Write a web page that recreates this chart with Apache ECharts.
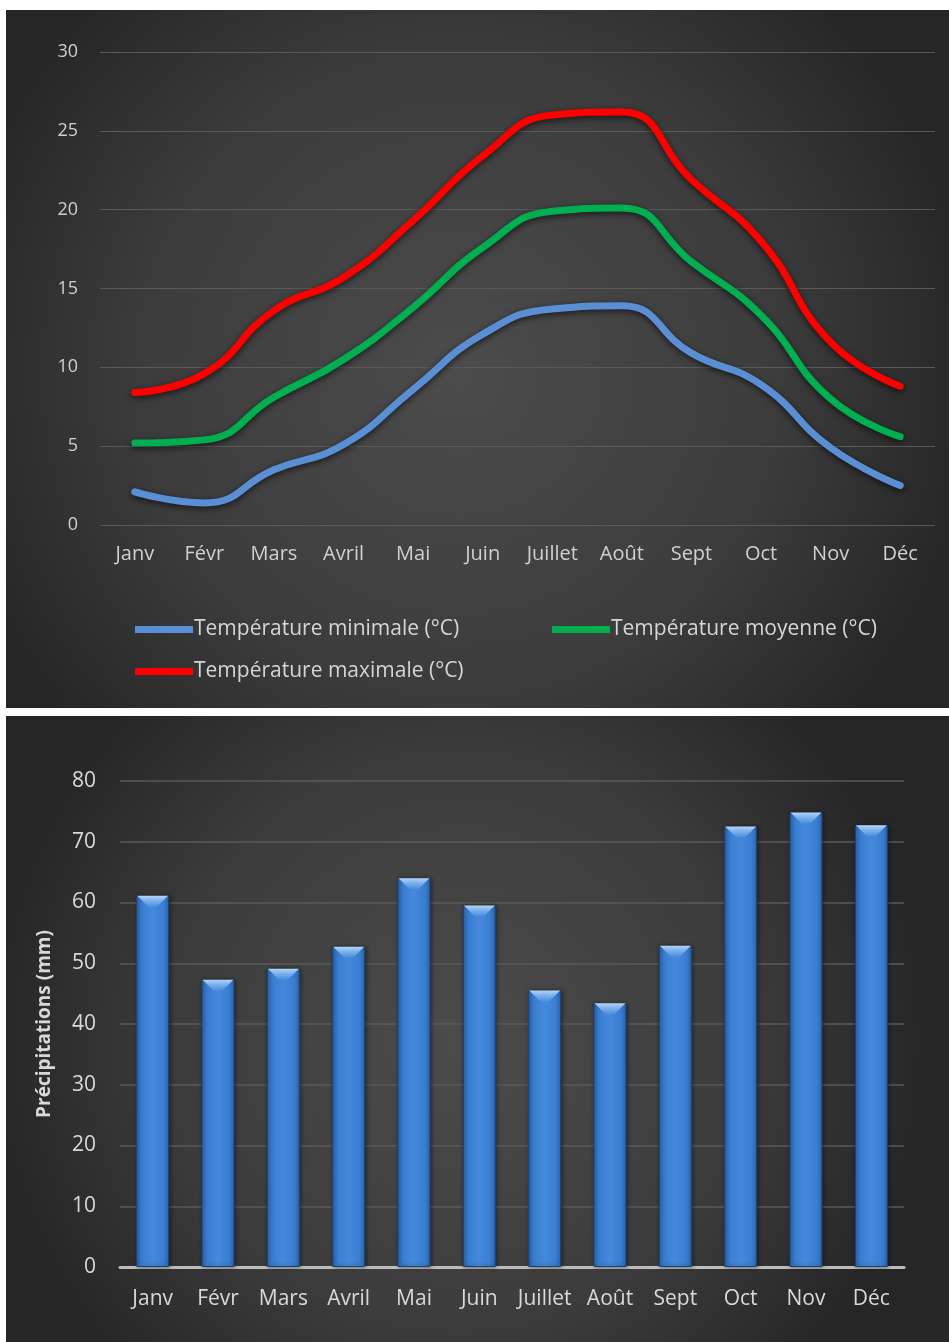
<!DOCTYPE html>
<html lang="fr">
<head>
<meta charset="utf-8">
<title>Climat mensuel</title>
<script src="https://cdn.jsdelivr.net/npm/echarts@6/dist/echarts.min.js"></script>
<style>
  html, body { margin: 0; padding: 0; background: #ffffff; }
  body { width: 949px; height: 1342px; position: relative; overflow: hidden; }
  #temp { position: absolute; left: 6px; top: 10px; width: 943px; height: 698px; }
  #rain { position: absolute; left: 6px; top: 716px; width: 943px; height: 626px; }
</style>
</head>
<body>
<div id="temp"></div>
<div id="rain"></div>
<script>
// Months shared by both charts
const months = ['Janv', 'Févr', 'Mars', 'Avril', 'Mai', 'Juin', 'Juillet', 'Août', 'Sept', 'Oct', 'Nov', 'Déc'];

// Temperatures (°C)
const tempMin = [2.1, 1.4, 3.5, 5.1, 8.6, 12.1, 13.7, 13.9, 10.9, 8.9, 4.9, 2.5];
const tempMoy = [5.2, 5.4, 8.1, 10.5, 13.8, 17.6, 19.9, 20.1, 16.7, 13.3, 8.0, 5.6];
const tempMax = [8.4, 9.6, 13.6, 15.7, 19.3, 23.4, 26.0, 26.2, 21.9, 18.0, 11.6, 8.8];

// Precipitation (mm)
const precip = [61.1, 47.3, 49.1, 52.7, 64.0, 59.5, 45.5, 43.4, 52.9, 72.5, 74.8, 72.7];

// Axis ticks
const tempTicks = { min: 0, max: 30, interval: 5 };
const rainTicks = { min: 0, max: 80, interval: 10 };

const seriesNames = ['Température minimale (°C)', 'Température moyenne (°C)', 'Température maximale (°C)'];
const seriesColors = ['#5b8fd5', '#00b050', '#ff0000'];

const axisFont = "'Open Sans', 'Noto Sans', sans-serif";
const gridColor = '#5a5a5a';

function panelBackground() {
  return {
    type: 'radial', x: 0.48, y: 0.52, r: 0.75,
    colorStops: [
      { offset: 0, color: '#4c4c4c' },
      { offset: 0.6, color: '#3c3c3c' },
      { offset: 1, color: '#262626' }
    ]
  };
}

// ---- Temperature lines ----
const tempChart = echarts.init(document.getElementById('temp'), null, { renderer: 'canvas' });

function lineSeries(i, data) {
  return {
    name: seriesNames[i],
    type: 'line',
    data: data,
    smooth: 0.5,
    showSymbol: false,
    symbol: 'none',
    lineStyle: {
      width: 7,
      color: seriesColors[i],
      cap: 'round',
      join: 'round',
      shadowColor: 'rgba(0,0,0,0.65)',
      shadowBlur: 6,
      shadowOffsetY: 2
    },
    itemStyle: { color: seriesColors[i] },
    z: 3 + i
  };
}

function legendItem(i, left, top) {
  return {
    data: [{ name: seriesNames[i], icon: 'rect' }],
    left: left, top: top,
    itemWidth: 58, itemHeight: 7, itemGap: 0,
    padding: 0,
    selectedMode: false,
    textStyle: { color: '#d6d6d6', fontSize: 21, fontFamily: axisFont, padding: [0, 0, 0, -4] }
  };
}

tempChart.setOption({
  backgroundColor: panelBackground(),
  animation: false,
  grid: { left: 94, top: 42, width: 835, height: 473 },
  legend: [
    legendItem(0, 129, 609),
    legendItem(1, 546, 609),
    legendItem(2, 129, 651)
  ],
  xAxis: {
    type: 'category',
    data: months,
    boundaryGap: true,
    axisLine: { show: false },
    axisTick: { show: false },
    axisLabel: { color: '#d0d0d0', fontSize: 20, fontFamily: axisFont, margin: 19, interval: 0 }
  },
  yAxis: {
    type: 'value',
    min: tempTicks.min, max: tempTicks.max, interval: tempTicks.interval,
    axisLine: { show: false },
    axisTick: { show: false },
    axisLabel: { color: '#d0d0d0', fontSize: 18, fontFamily: axisFont, margin: 22 },
    splitLine: { lineStyle: { color: gridColor, width: 1 } }
  },
  series: [
    lineSeries(0, tempMin),
    lineSeries(1, tempMoy),
    lineSeries(2, tempMax)
  ]
});

// ---- Precipitation bars ----
const rainChart = echarts.init(document.getElementById('rain'), null, { renderer: 'canvas' });

const barFill = {
  type: 'linear', x: 0, y: 0, x2: 1, y2: 0,
  colorStops: [
    { offset: 0, color: '#2d67b5' },
    { offset: 0.18, color: '#3a7ed2' },
    { offset: 0.5, color: '#4689db' },
    { offset: 0.82, color: '#3a7ed2' },
    { offset: 1, color: '#2d67b5' }
  ]
};

const bevelFill = {
  type: 'linear', x: 0, y: 0, x2: 0, y2: 1,
  colorStops: [
    { offset: 0, color: '#b5d6f8' },
    { offset: 0.35, color: '#86b7ee' },
    { offset: 1, color: '#4a8cdc' }
  ]
};

rainChart.setOption({
  backgroundColor: panelBackground(),
  animation: false,
  grid: { left: 114, top: 65, width: 784, height: 486 },
  xAxis: {
    type: 'category',
    data: months,
    axisLine: { show: true, lineStyle: { color: '#bdbdbd', width: 3 } },
    axisTick: { show: false },
    axisLabel: { color: '#d9d9d9', fontSize: 21, fontFamily: axisFont, margin: 22, interval: 0, hideOverlap: false }
  },
  yAxis: {
    type: 'value',
    min: rainTicks.min, max: rainTicks.max, interval: rainTicks.interval,
    name: 'Précipitations (mm)',
    nameLocation: 'middle',
    nameGap: 66,
    nameRotate: 90,
    nameTextStyle: { color: '#d9d9d9', fontSize: 19, fontWeight: 'bold', fontFamily: axisFont },
    axisLine: { show: false },
    axisTick: { show: false },
    axisLabel: { color: '#d9d9d9', fontSize: 21, fontFamily: axisFont, margin: 24 },
    splitLine: { lineStyle: { color: gridColor, width: 1.5 } }
  },
  series: [
    {
      type: 'bar',
      data: precip,
      barWidth: 33,
      itemStyle: {
        color: barFill,
        borderColor: '#1d436f',
        borderWidth: 1,
        shadowColor: 'rgba(0,0,0,0.45)',
        shadowBlur: 4,
        shadowOffsetX: 1
      },
      z: 2
    },
    {
      type: 'pictorialBar',
      data: precip,
      barGap: '-100%',
      symbol: 'path://M0,0 L100,0 L64,100 L36,100 Z',
      symbolSize: [31, 11],
      symbolPosition: 'end',
      symbolOffset: [0, 0],
      itemStyle: { color: bevelFill },
      silent: true,
      z: 3
    }
  ]
});
</script>
</body>
</html>
